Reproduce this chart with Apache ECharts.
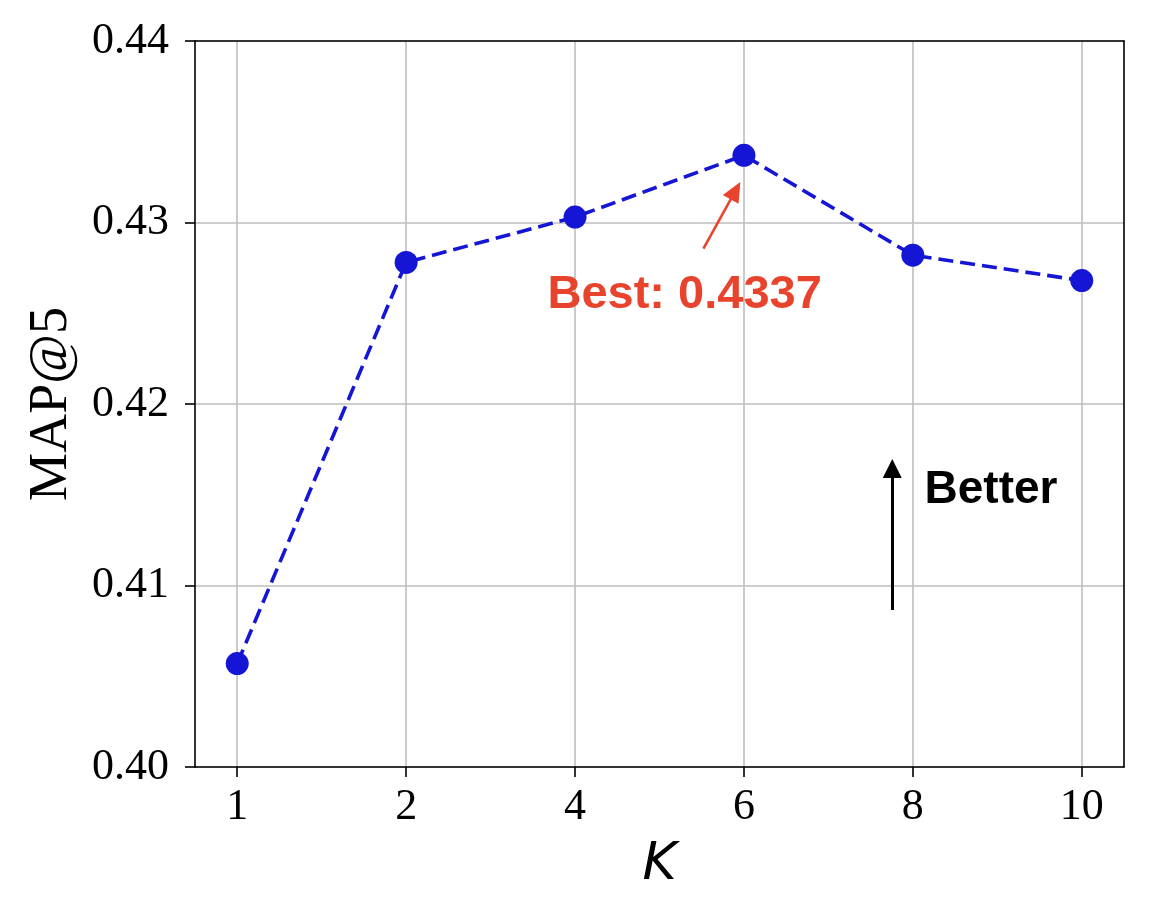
<!DOCTYPE html>
<html>
<head>
<meta charset="utf-8">
<script src="https://cdn.jsdelivr.net/npm/echarts@6/dist/echarts.min.js"></script>
<style>
  html, body { margin: 0; padding: 0; background: #fff; }
  #main { width: 1150px; height: 908px; }
</style>
</head>
<body>
<div id="main"></div>
<script>
// K values on the x axis (evenly spaced, index 0..5)
const kLabels = ['1', '2', '4', '6', '8', '10'];
const kIndex = [0, 1, 2, 3, 4, 5];
// MAP@5
const mapAt5 = [0.4057, 0.4278, 0.4303, 0.4337, 0.4282, 0.4268];
const yTicks = [0.40, 0.41, 0.42, 0.43, 0.44];

// annotations, in data coords (x = K index, y = MAP@5)
const bestArrow = [[2.76, 0.42856], [2.95, 0.43175]];
const betterArrow = [[3.878, 0.40865], [3.878, 0.41645]];
const bestNote = { text: 'Best: 0.4337', at: [2.649, 0.42602] };
const betterNote = { text: 'Better', at: [4.069, 0.41527] };

const BLUE = '#1515d6';
const RED = '#e8432d';
const serif = 'Liberation Serif';

const myChart = echarts.init(document.getElementById('main'), null, { renderer: 'canvas' });

const seriesData = kIndex.map((x, i) => [x, mapAt5[i]]);

const option = {
  backgroundColor: '#fff',
  animation: false,
  grid: { left: 195, right: 26, top: 41, bottom: 141 },
  xAxis: [
    {
      type: 'value',
      min: -0.25,
      max: 5.25,
      minInterval: 1,
      maxInterval: 1,
      name: 'K',
      nameLocation: 'middle',
      nameGap: 72,
      nameTextStyle: { fontFamily: 'DejaVu Sans', fontStyle: 'italic', fontSize: 52, color: '#000' },
      axisLine: { show: true, onZero: false, lineStyle: { color: '#000', width: 1.6 } },
      axisTick: { show: true, length: 10, customValues: kIndex, lineStyle: { color: '#000', width: 1.6 } },
      axisLabel: {
        customValues: kIndex,
        margin: 18,
        fontFamily: serif,
        fontSize: 44,
        color: '#000',
        formatter: v => kLabels[Math.round(v)] || ''
      },
      splitLine: { show: true, lineStyle: { color: '#bebebe', width: 1.6 } }
    },
    {
      type: 'value',
      position: 'top',
      min: -0.25,
      max: 5.25,
      axisLine: { show: true, onZero: false, lineStyle: { color: '#000', width: 1.6 } },
      axisTick: { show: false },
      axisLabel: { show: false },
      splitLine: { show: false }
    }
  ],
  yAxis: [
    {
      type: 'value',
      min: yTicks[0],
      max: yTicks[yTicks.length - 1],
      interval: 0.01,
      name: 'MAP@5',
      nameLocation: 'middle',
      nameGap: 116,
      nameTextStyle: { fontFamily: serif, fontSize: 54, color: '#000' },
      axisLine: { show: true, onZero: false, lineStyle: { color: '#000', width: 1.6 } },
      axisTick: { show: true, length: 10, lineStyle: { color: '#000', width: 1.6 } },
      axisLabel: {
        margin: 26,
        fontFamily: serif,
        fontSize: 44,
        color: '#000',
        formatter: v => v.toFixed(2)
      },
      splitLine: { show: true, lineStyle: { color: '#bebebe', width: 1.6 } }
    },
    {
      type: 'value',
      position: 'right',
      min: yTicks[0],
      max: yTicks[yTicks.length - 1],
      interval: 0.01,
      axisLine: { show: true, onZero: false, lineStyle: { color: '#000', width: 1.6 } },
      axisTick: { show: false },
      axisLabel: { show: false },
      splitLine: { show: false }
    }
  ],
  series: [
    {
      name: 'MAP@5',
      type: 'line',
      data: seriesData,
      symbol: 'circle',
      symbolSize: 23,
      itemStyle: { color: BLUE },
      lineStyle: { color: BLUE, width: 3.6, type: [15, 7] },
      z: 5,
      markLine: {
        silent: true,
        symbol: ['none', 'triangle'],
        label: { show: false },
        data: [
          [
            { coord: bestArrow[0], symbol: 'none', lineStyle: { color: RED, width: 2.6, type: 'solid' } },
            { coord: bestArrow[1], symbol: 'triangle', symbolSize: [18, 20] }
          ],
          [
            { coord: betterArrow[0], symbol: 'none', lineStyle: { color: '#000', width: 3, type: 'solid' } },
            { coord: betterArrow[1], symbol: 'triangle', symbolSize: [19, 19] }
          ]
        ]
      },
      markPoint: {
        silent: true,
        symbol: 'circle',
        symbolSize: 1,
        itemStyle: { color: 'rgba(0,0,0,0)' },
        data: [
          {
            coord: bestNote.at,
            label: {
              show: true, position: 'inside', formatter: bestNote.text,
              fontFamily: 'Liberation Sans', fontWeight: 'bold', fontSize: 47, color: RED,
              align: 'center', verticalAlign: 'middle'
            }
          },
          {
            coord: betterNote.at,
            label: {
              show: true, position: 'inside', formatter: betterNote.text,
              fontFamily: 'Liberation Sans', fontWeight: 'bold', fontSize: 46, color: '#000',
              align: 'left', verticalAlign: 'middle'
            }
          }
        ]
      }
    }
  ]
};

myChart.setOption(option);
</script>
</body>
</html>
